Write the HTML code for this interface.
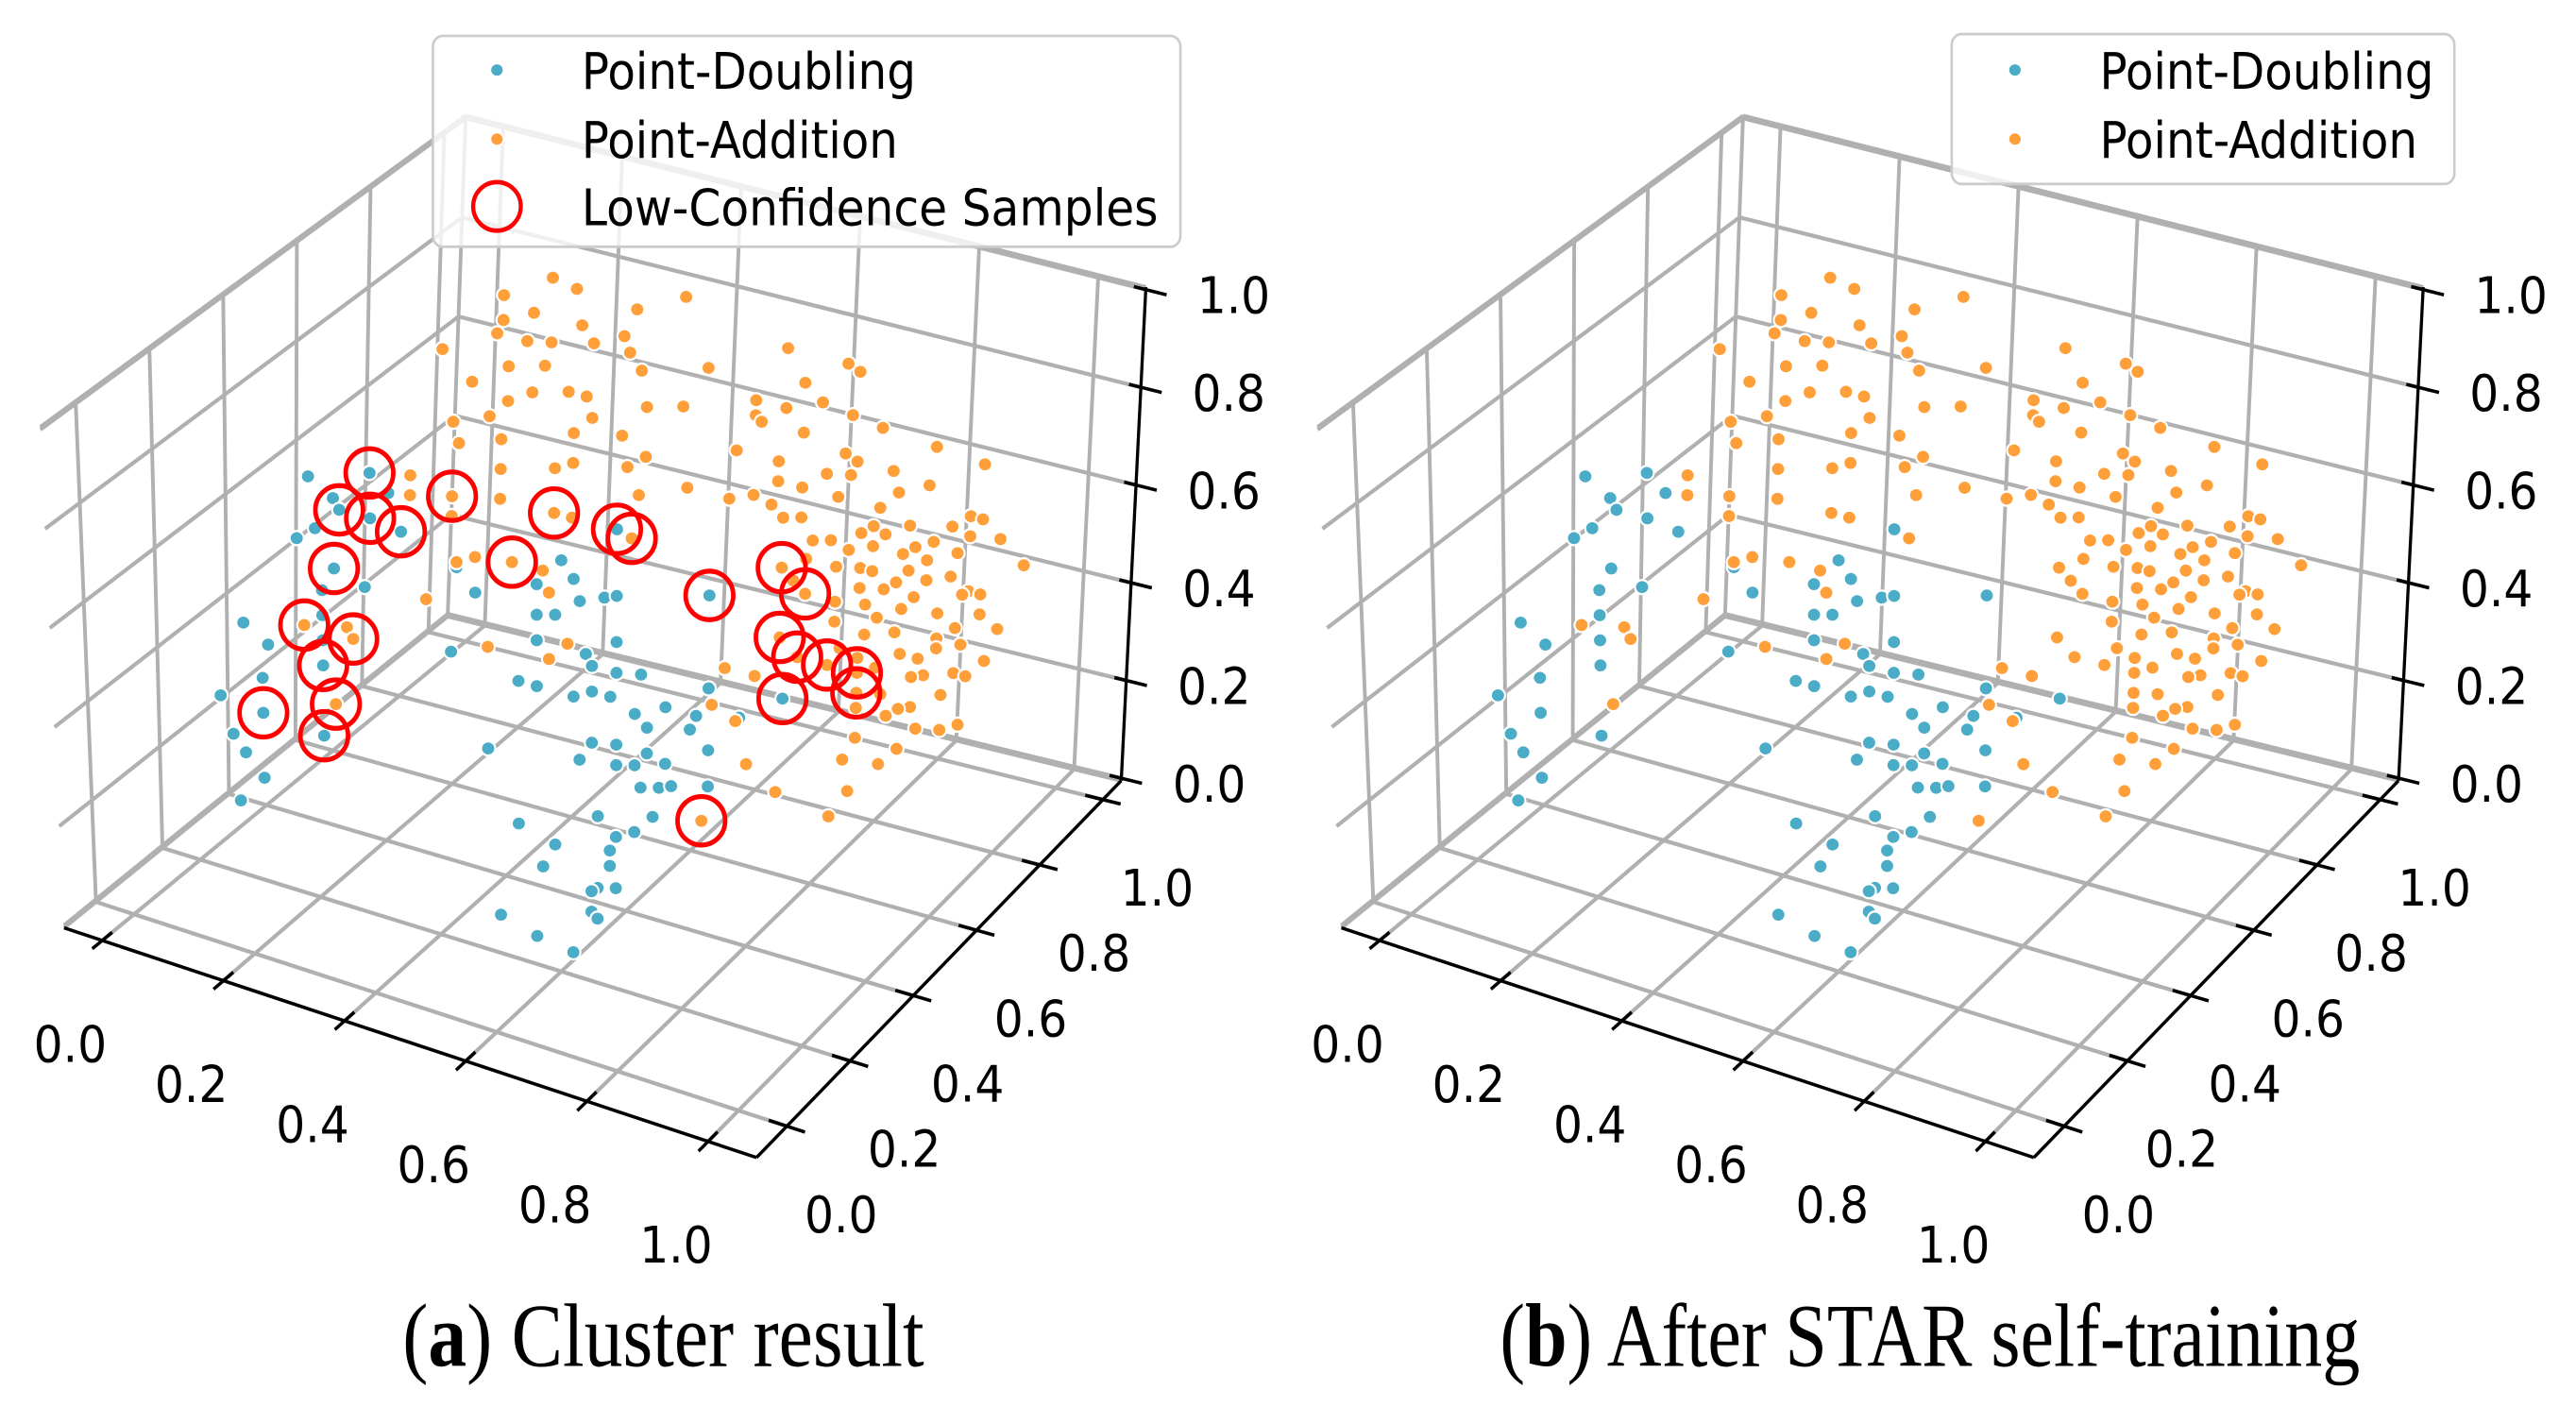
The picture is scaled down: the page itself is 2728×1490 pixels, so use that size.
<!DOCTYPE html>
<html>
<head>
<meta charset="utf-8">
<style>
  html,body{margin:0;padding:0;background:#fff;}
  svg{display:block;}
  .tick{font-family:"DejaVu Sans","Liberation Sans",sans-serif;font-size:56px;fill:#000;}
  .leg{font-family:"DejaVu Sans","Liberation Sans",sans-serif;font-size:56px;fill:#000;}
  .cap{font-family:"Liberation Serif","DejaVu Serif",serif;font-size:100px;fill:#000;}
</style>
</head>
<body>
<svg id="chart" width="2728" height="1490" viewBox="0 0 3136 1568" preserveAspectRatio="none" xmlns="http://www.w3.org/2000/svg">
  <g id="panel-a"></g>
  <g id="panel-b"></g>

  <g>
    <rect x="527" y="40" width="910" height="235" rx="12" fill="#fff" fill-opacity="0.8" stroke="#cccccc" stroke-width="3"/>
    <ellipse cx="605" cy="78" rx="8" ry="7.3" fill="#4aacc6" stroke="#fff" stroke-width="2"/>
    <text class="leg" x="708" y="99" textLength="407" lengthAdjust="spacingAndGlyphs">Point-Doubling</text>
    <ellipse cx="605" cy="155" rx="8" ry="7.3" fill="#ff9f3a" stroke="#fff" stroke-width="2"/>
    <text class="leg" x="708" y="176" textLength="385" lengthAdjust="spacingAndGlyphs">Point-Addition</text>
    <ellipse cx="605" cy="230" rx="29" ry="27" fill="none" stroke="#ff0000" stroke-width="5"/>
    <text class="leg" x="708" y="251" textLength="702" lengthAdjust="spacingAndGlyphs">Low-Confidence Samples</text>
  </g>

  <g>
    <rect x="2376" y="38" width="612" height="167" rx="12" fill="#fff" fill-opacity="0.8" stroke="#cccccc" stroke-width="3"/>
    <ellipse cx="2453" cy="78" rx="8" ry="7.3" fill="#4aacc6" stroke="#fff" stroke-width="2"/>
    <text class="leg" x="2556" y="99" textLength="407" lengthAdjust="spacingAndGlyphs">Point-Doubling</text>
    <ellipse cx="2453" cy="155" rx="8" ry="7.3" fill="#ff9f3a" stroke="#fff" stroke-width="2"/>
    <text class="leg" x="2556" y="176" textLength="387" lengthAdjust="spacingAndGlyphs">Point-Addition</text>
  </g>

  <text class="cap" x="490" y="1522" textLength="635" lengthAdjust="spacingAndGlyphs">(<tspan font-weight="bold">a</tspan>) Cluster result</text>
  <text class="cap" x="1826" y="1522" textLength="1047" lengthAdjust="spacingAndGlyphs">(<tspan font-weight="bold">b</tspan>) After STAR self-training</text>
</svg>

<script>
// ---------- data (x, y, z in [0,1]) ----------
const ticks = [0, 0.2, 0.4, 0.6, 0.8, 1.0];
const tickLabels = ["0.0", "0.2", "0.4", "0.6", "0.8", "1.0"];

const blueX = [.19,.23,.24,.29,.32,.34,.29,.20,.17,.23,.21,.28,.21,.08,.12,.21,.21,.11,.04,.11,.06,.21,.08,.11,.07,
  .43,.46,.42,.52,.56,.60,.62,.58,.63,.67,.69,.56,.59,.56,.64,.69,.65,.69,.73,.53,.56,.65,.62,.68,.72,.77,.74,.82,.84,.84,.81,
  .48,.65,.69,.74,.72,.77,.84,.84,.63,.69,.76,.78,.73,.66,.75,.72,.69,.68,.68,.66,.69,.65,.59,.57,.53,.50,.56,.62,.65,.66,.96,.89,.69];
const blueY = blueX.map(() => 0.2);
const blueZ = [.83,.80,.78,.87,.84,.77,.78,.73,.70,.66,.61,.64,.56,.50,.47,.51,.46,.40,.34,.33,.27,.32,.24,.20,.14,
  .73,.69,.56,.77,.74,.80,.77,.73,.73,.75,.76,.68,.69,.63,.63,.67,.61,.61,.62,.54,.54,.56,.54,.56,.54,.57,.52,.57,.63,.81,.54,
  .39,.46,.47,.47,.44,.46,.51,.44,.42,.43,.41,.42,.40,.32,.35,.31,.29,.26,.23,.18,.19,.17,.24,.19,.26,.07,.05,.04,.13,.12,.65,.59,.89];

const orangeX = [.27,.31,.19,.49,.41,.24,.19,.32,.23,.27,.34,.39,.18,.09,.20,.26,.40,.42,.53,.66,.76,.78,.14,.24,.20,.30,.33,.34,.43,.49,
  .61,.61,.66,.69,.72,.17,.11,.77,.31,.19,.39,.62,.69,.82,.12,.58,.65,.76,.78,.91,.84,.31,.28,.19,.40,.43,.99,.04,.73,.65,
  .69,.77,.90,.50,.75,.04,.57,.61,.82,.85,.42,.11,.31,.64,.69,.66,.97,.99,.87,.94,.81,.71,.74,.79,.83,.88,.91,.97,1.02,.77,
  .81,.86,.95,1.06,.79,.81,.75,.87,.90,.70,.68,.85,.90,.94,.97,.79,.83,.75,.80,.86,.88,.92,.96,.99,.99,.82,.75,.95,1.02,.92,
  .85,.80,.86,.92,.96,.89,1.00,.95,.90,.76,.79,.82,.97,.88,.83,.88,.93,.86,.84,.79,
  .57,.62,.55,.59,.79,.89,.96,.93,.77,.83,.86,.61,.66,.78,.75,
  .19,.11,.28,.41,.66,.70,.66,.69,.74,.79,.79,
  .83,.38,.48,.46,.52,.57,.58,.61,.58,.43,.25,.26,.18,.23];
const orangeY = [
  .75,.75,.75,.75,.75,.75,.75,.75,.75,.75,.75,.75,.75,.75,.75,.75,.75,.75,.75,.75,.75,.75,.75,.75,.75,.75,.75,.75,.75,.75,
  .75,.75,.75,.75,.75,.75,.75,.75,.75,.75,.75,.75,.75,.75,.75,.75,.75,.75,.75,.75,.75,.75,.75,.75,.75,.75,.75,.75,.75,.75,
  .75,.75,.75,.75,.75,.75,.75,.75,.75,.75,.75,.75,.75,.75,.75,.75,.75,.75,.75,.75,.75,.75,.75,.75,.75,.75,.75,.75,.75,.75,
  .75,.75,.75,.75,.75,.75,.75,.75,.75,.75,.75,.75,.75,.75,.75,.75,.75,.75,.75,.75,.75,.75,.75,.75,.75,.75,.75,.75,.75,.75,
  .75,.75,.75,.75,.75,.75,.75,.75,.75,.75,.75,.75,.75,.75,.75,.75,.75,.75,.75,.75,
  .75,.75,.75,.75,.75,.75,.75,.75,.75,.75,.75,.75,.75,.75,.75,
  .75,.75,.75,.75,.75,.75,.75,.75,.75,.75,.75,
  .2,.2,.2,.2,.2,.2,.2,.2,.2,.2,.2,.2,.2,.2];
const orangeZ = [.95,.94,.89,.98,.93,.87,.84,.87,.81,.82,.84,.87,.81,.75,.75,.77,.84,.81,.85,.93,.93,.92,.70,.71,.68,.73,.73,.69,.74,.76,
  .81,.78,.81,.87,.84,.64,.61,.83,.65,.60,.67,.77,.77,.82,.57,.70,.70,.75,.74,.81,.74,.59,.57,.54,.61,.64,.80,.48,.70,.66,
  .66,.71,.73,.60,.66,.44,.60,.62,.66,.70,.56,.42,.48,.61,.60,.59,.69,.69,.64,.66,.62,.56,.57,.60,.61,.60,.62,.65,.66,.56,
  .58,.58,.61,.62,.53,.53,.52,.55,.58,.52,.47,.52,.54,.56,.54,.49,.50,.45,.46,.47,.50,.48,.53,.54,.50,.44,.41,.46,.48,.43,
  .42,.40,.38,.41,.43,.38,.41,.37,.35,.36,.35,.34,.37,.34,.29,.28,.32,.27,.25,.25,
  .26,.26,.18,.16,.19,.24,.27,.25,.14,.15,.19,.08,.04,.08,.02,
  .48,.46,.48,.47,.49,.45,.35,.32,.32,.32,.28,
  .37,.65,.59,.76,.77,.77,.73,.64,.60,.74,.55,.53,.53,.39];

const lowX = [.29,.24,.29,.34,.23,.21,.11,.21,.84,.96,.69, .18,.23,.26,.52,.83, .11,.28,.41,.66,.70,.66,.69,.74,.79,.79];
const lowY = [.2,.2,.2,.2,.2,.2,.2,.2,.2,.2,.2, .2,.2,.2,.2,.2, .75,.75,.75,.75,.75,.75,.75,.75,.75,.75];
const lowZ = [.87,.78,.78,.77,.66,.46,.33,.32,.81,.65,.89, .53,.39,.53,.77,.37, .46,.48,.47,.49,.45,.35,.32,.32,.32,.28];

// ---------- projection (axis functions) ----------
const XMIN = -0.063, XMAX = 1.08, YMIN = -0.096, YMAX = 1.058, ZMIN = -0.005, ZMAX = 1.005;
const CORNERS = {
  c000: [78, 1034], c100: [921, 1290], c110: [1365, 870], c010: [545, 687],
  c001: [49, 476],  c101: [926, 690],  c111: [1395, 320], c011: [567, 129]
};
function proj(x, y, z, dx) {
  const u = (x - XMIN) / (XMAX - XMIN), v = (y - YMIN) / (YMAX - YMIN), w = (z - ZMIN) / (ZMAX - ZMIN);
  const C = CORNERS, out = [0, 0];
  for (let k = 0; k < 2; k++) {
    const a0 = C.c000[k] * (1 - u) + C.c100[k] * u;
    const a1 = C.c010[k] * (1 - u) + C.c110[k] * u;
    const a2 = C.c001[k] * (1 - u) + C.c101[k] * u;
    const a3 = C.c011[k] * (1 - u) + C.c111[k] * u;
    const b0 = a0 * (1 - v) + a1 * v;
    const b1 = a2 * (1 - v) + a3 * v;
    out[k] = b0 * (1 - w) + b1 * w;
  }
  out[0] += dx;
  return out;
}

const NS = "http://www.w3.org/2000/svg";
function mk(parent, tag, attrs) {
  const el = document.createElementNS(NS, tag);
  for (const k in attrs) el.setAttribute(k, attrs[k]);
  parent.appendChild(el);
  return el;
}
function seg(parent, p, q, stroke, width, name) {
  const el = mk(parent, "line", {x1: p[0], y1: p[1], x2: q[0], y2: q[1], stroke: stroke, "stroke-width": width, "stroke-linecap": "butt"});
  
  
  return el;
}

function drawPanel(g, dx, withLow) {
  const grid = "#b0b0b0", gw = 4.5;
  // pane edges
  seg(g, proj(XMIN, YMIN, ZMAX, dx), proj(XMIN, YMAX, ZMAX, dx), grid, gw, 'pane-edge');
  seg(g, proj(XMIN, YMAX, ZMAX, dx), proj(XMAX, YMAX, ZMAX, dx), grid, gw, 'pane-edge');
  seg(g, proj(XMIN, YMAX, ZMIN, dx), proj(XMIN, YMAX, ZMAX, dx), grid, gw, 'pane-edge');
  seg(g, proj(XMIN, YMIN, ZMIN, dx), proj(XMIN, YMAX, ZMIN, dx), grid, gw, 'pane-edge');
  seg(g, proj(XMIN, YMAX, ZMIN, dx), proj(XMAX, YMAX, ZMIN, dx), grid, gw, 'pane-edge');
  ticks.forEach(t => {
    seg(g, proj(t, YMIN, ZMIN, dx), proj(t, YMAX, ZMIN, dx), grid, gw, 'floor-gridline-x');
    seg(g, proj(XMIN, t, ZMIN, dx), proj(XMAX, t, ZMIN, dx), grid, gw, 'floor-gridline-y');
    seg(g, proj(XMIN, t, ZMIN, dx), proj(XMIN, t, ZMAX, dx), grid, gw, 'left-wall-gridline-y');
    seg(g, proj(XMIN, YMIN, t, dx), proj(XMIN, YMAX, t, dx), grid, gw, 'left-wall-gridline-z');
    seg(g, proj(t, YMAX, ZMIN, dx), proj(t, YMAX, ZMAX, dx), grid, gw, 'back-wall-gridline-x');
    seg(g, proj(XMIN, YMAX, t, dx), proj(XMAX, YMAX, t, dx), grid, gw, 'back-wall-gridline-z');
  });
  // axes
  seg(g, proj(XMIN, YMIN, ZMIN, dx), proj(XMAX, YMIN, ZMIN, dx), "#000", 3.8, 'x-axis');
  seg(g, proj(XMAX, YMIN, ZMIN, dx), proj(XMAX, YMAX, ZMIN, dx), "#000", 3.8, 'y-axis');
  seg(g, proj(XMAX, YMAX, ZMIN, dx), proj(XMAX, YMAX, ZMAX, dx), "#000", 3.8, 'z-axis');
  ticks.forEach((t, i) => {
    seg(g, proj(t, YMIN - 0.03, ZMIN, dx), proj(t, YMIN + 0.03, ZMIN, dx), "#000", 3.8, 'x-tick');
    seg(g, proj(XMAX - 0.03, t, ZMIN, dx), proj(XMAX + 0.03, t, ZMIN, dx), "#000", 3.8, 'y-tick');
    seg(g, proj(XMAX - 0.02, YMAX, t, dx), proj(XMAX + 0.035, YMAX, t, dx), "#000", 3.8, 'z-tick');
    const px = proj(t, YMIN, ZMIN, dx);
    const tx = mk(g, "text", {x: px[0] - 39, y: px[1] + 117, class: "tick", "text-anchor": "middle", "dominant-baseline": "central"});
    
    
    tx.textContent = tickLabels[i];
    const py = proj(XMAX, t, ZMIN, dx);
    const ty = mk(g, "text", {x: py[0] + 66, y: py[1] + 100, class: "tick", "text-anchor": "middle", "dominant-baseline": "central"});
    
    
    ty.textContent = tickLabels[i];
    const pz = proj(XMAX, YMAX, t, dx);
    const tz = mk(g, "text", {x: pz[0] + 107, y: pz[1] + 8, class: "tick", "text-anchor": "middle", "dominant-baseline": "central"});
    
    
    tz.textContent = tickLabels[i];
  });
  // points
  for (let i = 0; i < blueX.length; i++) {
    const p = proj(blueX[i], blueY[i], blueZ[i], dx);
    const e = mk(g, "ellipse", {cx: p[0], cy: p[1], rx: 8.6, ry: 7.9, fill: "#4aacc6", stroke: "#fff", "stroke-width": 2.4});
    
    
  }
  for (let i = 0; i < orangeX.length; i++) {
    const p = proj(orangeX[i], orangeY[i], orangeZ[i], dx);
    const e = mk(g, "ellipse", {cx: p[0], cy: p[1], rx: 8.6, ry: 7.9, fill: "#ff9f3a", stroke: "#fff", "stroke-width": 2.4});
    
    
  }
  if (withLow) {
    for (let i = 0; i < lowX.length; i++) {
      const p = proj(lowX[i], lowY[i], lowZ[i], dx);
      const e = mk(g, "ellipse", {cx: p[0], cy: p[1], rx: 29, ry: 27, fill: "none", stroke: "#ff0000", "stroke-width": 5.5});
      
      
    }
  }
}

drawPanel(document.getElementById("panel-a"), 0, true);
drawPanel(document.getElementById("panel-b"), 1568 - 13, false);
</script>
</body>
</html>
